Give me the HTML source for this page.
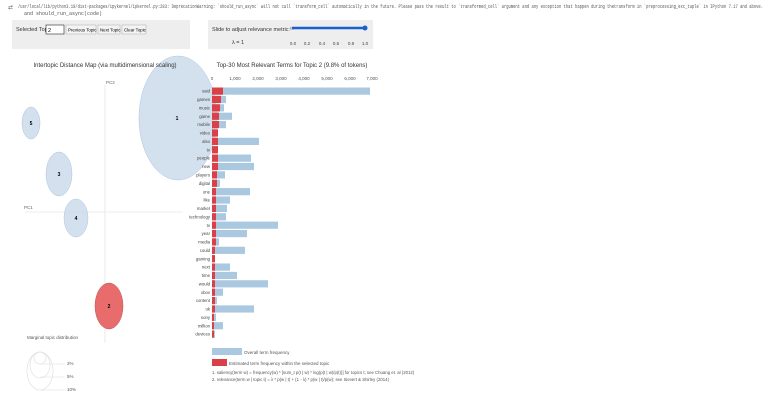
<!DOCTYPE html>
<html><head><meta charset="utf-8"><style>
body{margin:0;background:#fff;width:768px;height:419px;overflow:hidden;font-family:"Liberation Sans",sans-serif}
svg{display:block}
</style></head><body>
<svg width="768" height="419" xmlns="http://www.w3.org/2000/svg" font-family="Liberation Sans, sans-serif">
<text x="8" y="9" font-size="6" fill="#666">⇄</text>
<text x="18" y="8" font-size="5" fill="#555" font-family="Liberation Mono, monospace" textLength="745" lengthAdjust="spacingAndGlyphs">/usr/local/lib/python3.10/dist-packages/ipykernel/ipkernel.py:283: DeprecationWarning: `should_run_async` will not call `transform_cell` automatically in the future. Please pass the result to `transformed_cell` argument and any exception that happen during thetransform in `preprocessing_exc_tuple` in IPython 7.17 and above.</text>
<text x="24" y="15" font-size="5" fill="#555" font-family="Liberation Mono, monospace">and should_run_async(code)</text>
<rect x="12" y="20" width="178" height="29" fill="#eee"/>
<text x="16" y="31" font-size="5.5" fill="#333">Selected Topic:</text>
<rect x="46" y="25" width="18" height="9" fill="#fff" stroke="#444" stroke-width="0.7"/>
<text x="48" y="32" font-size="5.5">2</text>
<rect x="66" y="25" width="30" height="9" fill="#f4f4f4" stroke="#aaa" stroke-width="0.5"/><text x="68" y="31.5" font-size="4.4">Previous Topic</text>
<rect x="98" y="25" width="22" height="9" fill="#f4f4f4" stroke="#aaa" stroke-width="0.5"/><text x="100" y="31.5" font-size="4.4">Next Topic</text>
<rect x="122" y="25" width="24" height="9" fill="#f4f4f4" stroke="#aaa" stroke-width="0.5"/><text x="124" y="31.5" font-size="4.4">Clear Topic</text>
<rect x="208" y="20" width="165" height="29" fill="#eee"/>
<text x="212" y="31" font-size="5.5" fill="#333">Slide to adjust relevance metric:⁽²⁾</text>
<text x="232" y="44" font-size="5.5" fill="#333">λ = 1</text>
<line x1="292" y1="28" x2="365" y2="28" stroke="#1a5fd0" stroke-width="2.5"/>
<circle cx="365" cy="28" r="2.5" fill="#1a5fd0"/>
<g font-size="4.5" fill="#444" text-anchor="middle">
<text x="293" y="45">0.0</text><text x="307" y="45">0.2</text><text x="322" y="45">0.4</text><text x="336" y="45">0.6</text><text x="351" y="45">0.8</text><text x="365" y="45">1.0</text></g>
<line x1="105" y1="85" x2="105" y2="343" stroke="#ddd" stroke-width="0.6"/>
<line x1="25" y1="212" x2="183" y2="212" stroke="#ddd" stroke-width="0.6"/>
<text x="106" y="84" font-size="4.5" fill="#666">PC2</text>
<text x="24" y="209" font-size="4.5" fill="#666">PC1</text>
<g fill="#c8d8ea" fill-opacity="0.8" stroke="#b0c4dc" stroke-width="0.5">
<ellipse cx="178" cy="118" rx="39" ry="62"/>
<ellipse cx="31" cy="123" rx="9" ry="16"/>
<ellipse cx="59" cy="174" rx="13" ry="22"/>
<ellipse cx="76" cy="218" rx="12" ry="19"/>
</g>
<text x="105" y="67" font-size="6" text-anchor="middle" fill="#333">Intertopic Distance Map (via multidimensional scaling)</text>
<text x="292" y="67" font-size="6" text-anchor="middle" fill="#333">Top-30 Most Relevant Terms for Topic 2 (9.8% of tokens)</text>
<ellipse cx="109" cy="306" rx="14" ry="23" fill="#e86c6c" stroke="#c05050" stroke-width="0.5"/>
<g font-size="5" text-anchor="middle" font-weight="bold"><text x="177" y="120">1</text><text x="31" y="125">5</text><text x="59" y="176">3</text><text x="76" y="220">4</text><text x="109" y="308">2</text></g>
<text x="27" y="339" font-size="4.5" fill="#555">Marginal topic distribution</text>
<g fill="none" stroke="#ddd" stroke-width="0.6">
<ellipse cx="40" cy="371" rx="13" ry="19"/><ellipse cx="40" cy="365" rx="10" ry="13"/><ellipse cx="40" cy="358" rx="6" ry="6"/>
<line x1="40" y1="364" x2="65" y2="364"/><line x1="40" y1="377" x2="65" y2="377"/><line x1="40" y1="390" x2="65" y2="390"/></g>
<g font-size="4.5" fill="#555"><text x="67" y="365">2%</text><text x="67" y="378">5%</text><text x="67" y="391">10%</text></g>
<g font-size="4.5" fill="#555" text-anchor="middle">
<text x="212" y="80">0</text><text x="235" y="80">1,000</text><text x="258" y="80">2,000</text><text x="281" y="80">3,000</text><text x="304" y="80">4,000</text><text x="327" y="80">5,000</text><text x="350" y="80">6,000</text><text x="372" y="80">7,000</text></g>
<rect x="212" y="348" width="30" height="7" fill="#aac8e0"/>
<text x="244" y="354" font-size="4.5" fill="#555">Overall term frequency</text>
<rect x="212" y="359" width="15" height="7" fill="#d94048"/>
<text x="229" y="365" font-size="4.5" fill="#555">Estimated term frequency within the selected topic</text>
<text x="212" y="374" font-size="4.3" fill="#555">1. saliency(term w) = frequency(w) * [sum_t p(t | w) * log(p(t | w)/p(t))] for topics t; see Chuang et. al (2012)</text>
<text x="212" y="381" font-size="4.3" fill="#555">2. relevance(term w | topic t) = λ * p(w | t) + (1 - λ) * p(w | t)/p(w); see Sievert &amp; Shirley (2014)</text>
<g id="b">
</g>
</svg>
<script>
var terms=["said","games","music","game","mobile","video","also","tv","people","new","players","digital","one","like","market","technology","tv","year","media","could","gaming","next","time","would","xbox","content","uk","sony","million","devices"];
var blue=[370,226,224,232,226,218,259,218,251,254,225,220,250,230,227,226,278,247,219,245,214,230,237,268,223,217,254,216,223,215];
var red=[223,221,220,219,219,218,218,218,218,218,217,217,216,216,216,216,216,216,216,215,215,215,215,215,215,215,215,214,214,214];
var g=document.getElementById("b"),s="";
for(var i=0;i<30;i++){var y=87.5+i*8.38;
s+='<rect x="212" y="'+y+'" width="'+(blue[i]-212)+'" height="7.2" fill="#aac8e0"/>';
s+='<rect x="212" y="'+y+'" width="'+(red[i]-212)+'" height="7.2" fill="#d94048"/>';
s+='<text x="210" y="'+(y+5.2)+'" font-size="4.3" text-anchor="end" fill="#444">'+terms[i]+'</text>';}
g.innerHTML=s;
</script>
</body></html>
